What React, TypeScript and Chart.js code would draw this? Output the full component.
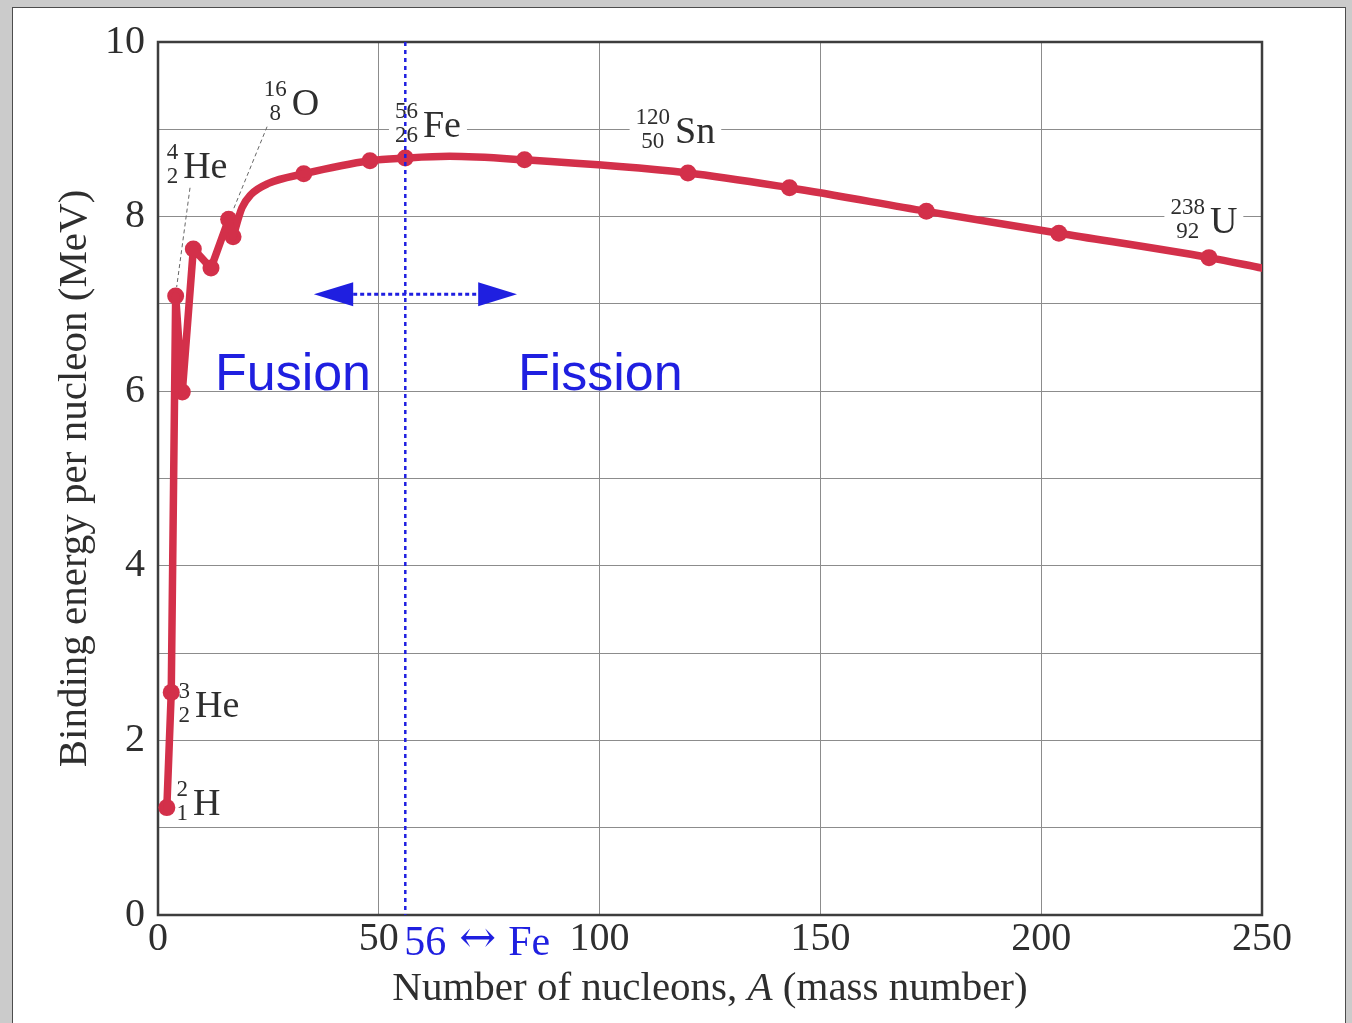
import React, { useEffect, useRef } from "react";
import { Chart, registerables } from "chart.js";

Chart.register(...registerables);

// Binding energy per nucleon (MeV) against mass number A.
// Light nuclei: joined by straight segments.
const lightMass = [2, 3, 4, 5.5, 8, 12, 16, 17];
const lightEnergy = [1.23, 2.55, 7.09, 5.99, 7.63, 7.41, 7.97, 7.77];
// Heavier nuclei: joined by a smooth curve.
const heavyMass = [17, 19, 21, 25, 33, 48, 56, 66, 83, 120, 143, 174, 204, 238, 250];
const heavyEnergy = [7.77, 8.1, 8.25, 8.38, 8.49, 8.64, 8.67, 8.69, 8.65, 8.5, 8.33, 8.06, 7.81, 7.53, 7.41];
// Nuclei drawn with a dot.
const markerMass = [2, 3, 4, 5.5, 8, 12, 16, 17, 33, 48, 56, 83, 120, 143, 174, 204, 238];
const markerEnergy = [1.23, 2.55, 7.09, 5.99, 7.63, 7.41, 7.97, 7.77, 8.49, 8.64, 8.67, 8.65, 8.5, 8.33, 8.06, 7.81, 7.53];

const xTickValues = [0, 50, 100, 150, 200, 250];
const yTickLabels = [0, 2, 4, 6, 8, 10];

// Named nuclides
const nuclideSymbol = ["H", "He", "He", "O", "Fe", "Sn", "U"];
const nuclideMassNumber = ["2", "3", "4", "16", "56", "120", "238"];
const nuclideAtomicNumber = ["1", "2", "2", "8", "26", "50", "92"];

const ironMass = 56;

const SERIF = "'Liberation Serif', 'Times New Roman', serif";
const SANS = "'Liberation Sans', Arial, sans-serif";
const RED = "#d3304a";
const BLUE = "#1f1fe0";
const INK = "#2e2e2e";
const GRID = "#8c8c8c";

// Where each nuclide symbol sits (left edge, baseline) in axis units
const labelSpots = [
  { a: 7.9, e: 1.15 },
  { a: 8.4, e: 2.27 },
  { a: 5.7, e: 8.44 },
  { a: 30.3, e: 9.16 },
  { a: 60.0, e: 8.91 },
  { a: 117.1, e: 8.84 },
  { a: 238.2, e: 7.81 },
];

// Thin dashed leader lines from a label down to its dot
const leaders = [
  { from: { a: 7.25, e: 8.33 }, marker: 2, dx: 1, dy: -9 },
  { from: { a: 24.7, e: 9.03 }, marker: 6, dx: 4, dy: -8 },
];

const overlay = {
  id: "overlay",
  beforeDatasetsDraw(chart: any) {
    const { ctx, chartArea: ca, scales } = chart;
    const x = scales.x;
    const y = scales.y;
    ctx.save();
    // plot frame
    ctx.strokeStyle = "#3d3d3d";
    ctx.lineWidth = 2.5;
    ctx.strokeRect(ca.left, ca.top, ca.right - ca.left, ca.bottom - ca.top);

    // nuclide labels on white boxes
    nuclideSymbol.forEach((sym, i) => {
      const spot = labelSpots[i];
      const sx = x.getPixelForValue(spot.a);
      const base = y.getPixelForValue(spot.e);
      ctx.font = `38px ${SERIF}`;
      const symW = ctx.measureText(sym).width;
      ctx.font = `23px ${SERIF}`;
      const colW = Math.max(
        ctx.measureText(nuclideMassNumber[i]).width,
        ctx.measureText(nuclideAtomicNumber[i]).width
      );
      const colC = sx - 5 - colW / 2;
      const supB = base - 19;
      const subB = base + 5;
      ctx.fillStyle = "#ffffff";
      ctx.fillRect(colC - colW / 2 - 6, supB - 18, colW + symW + 17, subB + 4 - (supB - 18));
      ctx.fillStyle = INK;
      ctx.textAlign = "center";
      ctx.textBaseline = "alphabetic";
      ctx.fillText(nuclideMassNumber[i], colC, supB);
      ctx.fillText(nuclideAtomicNumber[i], colC, subB);
      ctx.font = `38px ${SERIF}`;
      ctx.textAlign = "left";
      ctx.fillText(sym, sx, base);
    });

    // leader lines
    ctx.strokeStyle = "#666666";
    ctx.lineWidth = 1;
    ctx.setLineDash([4, 3]);
    leaders.forEach((l) => {
      const px = x.getPixelForValue(markerMass[l.marker]) + l.dx;
      const py = y.getPixelForValue(markerEnergy[l.marker]) + l.dy;
      ctx.beginPath();
      ctx.moveTo(x.getPixelForValue(l.from.a), y.getPixelForValue(l.from.e));
      ctx.lineTo(px, py);
      ctx.stroke();
    });
    ctx.restore();
  },
  afterDatasetsDraw(chart: any) {
    const { ctx, chartArea: ca, scales } = chart;
    const x = scales.x;
    const y = scales.y;
    ctx.save();
    const fe = x.getPixelForValue(ironMass);
    ctx.strokeStyle = BLUE;
    ctx.lineWidth = 2.5;
    ctx.setLineDash([4, 4]);
    ctx.beginPath();
    ctx.moveTo(fe, ca.top);
    ctx.lineTo(fe, ca.bottom);
    ctx.stroke();

    // double arrow: fusion <- | -> fission
    const ay = y.getPixelForValue(7.11);
    const lt = x.getPixelForValue(35.3);
    const lb = x.getPixelForValue(44.2);
    const rb = x.getPixelForValue(72.5);
    const rt = x.getPixelForValue(81.3);
    ctx.lineWidth = 3;
    ctx.setLineDash([4, 3]);
    ctx.beginPath();
    ctx.moveTo(lb, ay);
    ctx.lineTo(rb, ay);
    ctx.stroke();
    ctx.setLineDash([]);
    ctx.fillStyle = BLUE;
    ctx.beginPath();
    ctx.moveTo(lt, ay);
    ctx.lineTo(lb, ay - 12);
    ctx.lineTo(lb, ay + 12);
    ctx.closePath();
    ctx.fill();
    ctx.beginPath();
    ctx.moveTo(rt, ay);
    ctx.lineTo(rb, ay - 12);
    ctx.lineTo(rb, ay + 12);
    ctx.closePath();
    ctx.fill();

    ctx.font = `52px ${SANS}`;
    ctx.textAlign = "left";
    ctx.textBaseline = "alphabetic";
    ctx.fillText("Fusion", x.getPixelForValue(12.9), y.getPixelForValue(6.01));
    ctx.fillText("Fission", x.getPixelForValue(81.5), y.getPixelForValue(6.01));

    // "56 <-> Fe" under the axis, starting at the iron line
    const base = ca.bottom + 40;
    let cx = fe - 1;
    ctx.font = `42px ${SERIF}`;
    ctx.fillText("56", cx, base);
    cx += ctx.measureText("56").width + 13;
    ctx.font = `44px 'DejaVu Serif', serif`;
    ctx.fillText("\u2194", cx, base - 3);
    cx += ctx.measureText("\u2194").width + 12;
    ctx.font = `42px ${SERIF}`;
    ctx.fillText("Fe", cx, base);
    ctx.restore();
  },
  afterDraw(chart: any) {
    const { ctx, chartArea: ca } = chart;
    ctx.save();
    const parts: [string, string][] = [
      ["Number of nucleons, ", "normal"],
      ["A", "italic"],
      [" (mass number)", "normal"],
    ];
    let total = 0;
    const widths = parts.map(([t, st]) => {
      ctx.font = `${st} 41px ${SERIF}`;
      const w = ctx.measureText(t).width;
      total += w;
      return w;
    });
    let cx = (ca.left + ca.right) / 2 - total / 2;
    ctx.fillStyle = INK;
    ctx.textAlign = "left";
    ctx.textBaseline = "alphabetic";
    parts.forEach(([t, st], i) => {
      ctx.font = `${st} 41px ${SERIF}`;
      ctx.fillText(t, cx, ca.bottom + 85);
      cx += widths[i];
    });
    ctx.restore();
  },
};

export default function App() {
  const canvasRef = useRef<HTMLCanvasElement | null>(null);

  useEffect(() => {
    document.body.style.margin = "0";
    const canvas = canvasRef.current;
    if (!canvas) return;
    const pts = (xs: number[], ys: number[]) => xs.map((a, i) => ({ x: a, y: ys[i] }));
    const chart = new Chart(canvas, {
      type: "line",
      data: {
        datasets: [
          {
            data: pts(lightMass, lightEnergy),
            borderColor: RED,
            borderWidth: 7.5,
            pointRadius: 0,
            tension: 0,
            borderJoinStyle: "round",
            borderCapStyle: "round",
            clip: 0,
          },
          {
            data: pts(heavyMass, heavyEnergy),
            borderColor: RED,
            borderWidth: 7.5,
            pointRadius: 0,
            cubicInterpolationMode: "monotone",
            borderJoinStyle: "round",
            borderCapStyle: "round",
            clip: 0,
          },
          {
            data: pts(markerMass, markerEnergy),
            showLine: false,
            pointRadius: 8.5,
            pointBackgroundColor: RED,
            pointBorderWidth: 0,
            borderColor: RED,
          },
        ],
      } as any,
      options: {
        responsive: false,
        animation: false,
        devicePixelRatio: 1,
        layout: { padding: { left: 0, top: 42, right: 90, bottom: 0 } },
        plugins: { legend: { display: false }, tooltip: { enabled: false } },
        scales: {
          x: {
            type: "linear",
            min: 0,
            max: 250,
            afterBuildTicks: (s: any) => {
              s.ticks = xTickValues.map((v) => ({ value: v }));
            },
            afterFit: (s: any) => {
              s.height = 108;
            },
            ticks: {
              font: { family: SERIF, size: 40 },
              color: INK,
              padding: 0,
              maxRotation: 0,
              autoSkip: false,
            },
            grid: {
              drawTicks: false,
              lineWidth: 1,
              color: (c: any) =>
                c.tick && (c.tick.value === 0 || c.tick.value === 250) ? "rgba(0,0,0,0)" : GRID,
            },
            border: { display: false },
          },
          y: {
            type: "linear",
            min: 0,
            max: 10,
            afterFit: (s: any) => {
              s.width = 158;
            },
            ticks: {
              stepSize: 1,
              font: { family: SERIF, size: 40 },
              color: INK,
              padding: 13,
              callback: (v: any) => (yTickLabels.includes(Number(v)) ? String(v) : ""),
            },
            grid: {
              drawTicks: false,
              lineWidth: 1,
              color: (c: any) =>
                c.tick && (c.tick.value === 0 || c.tick.value === 10) ? "rgba(0,0,0,0)" : GRID,
            },
            border: { display: false },
            title: {
              display: true,
              text: "Binding energy per nucleon (MeV)",
              font: { family: SERIF, size: 41 },
              color: INK,
              padding: { top: 51, bottom: 0 },
            },
          },
        },
      } as any,
      plugins: [overlay],
    });
    return () => chart.destroy();
  }, []);

  return (
    <div style={{ position: "fixed", inset: 0, background: "#cbcbcb", overflow: "hidden" }}>
      <div
        style={{
          position: "absolute",
          left: 12,
          top: 7,
          width: 1334,
          height: 1100,
          background: "#ffffff",
          border: "1.5px solid #4d4d4d",
          boxSizing: "border-box",
        }}
      />
      <canvas
        ref={canvasRef}
        width={1352}
        height={1023}
        style={{ position: "absolute", left: 0, top: 0, width: 1352, height: 1023 }}
      />
    </div>
  );
}
